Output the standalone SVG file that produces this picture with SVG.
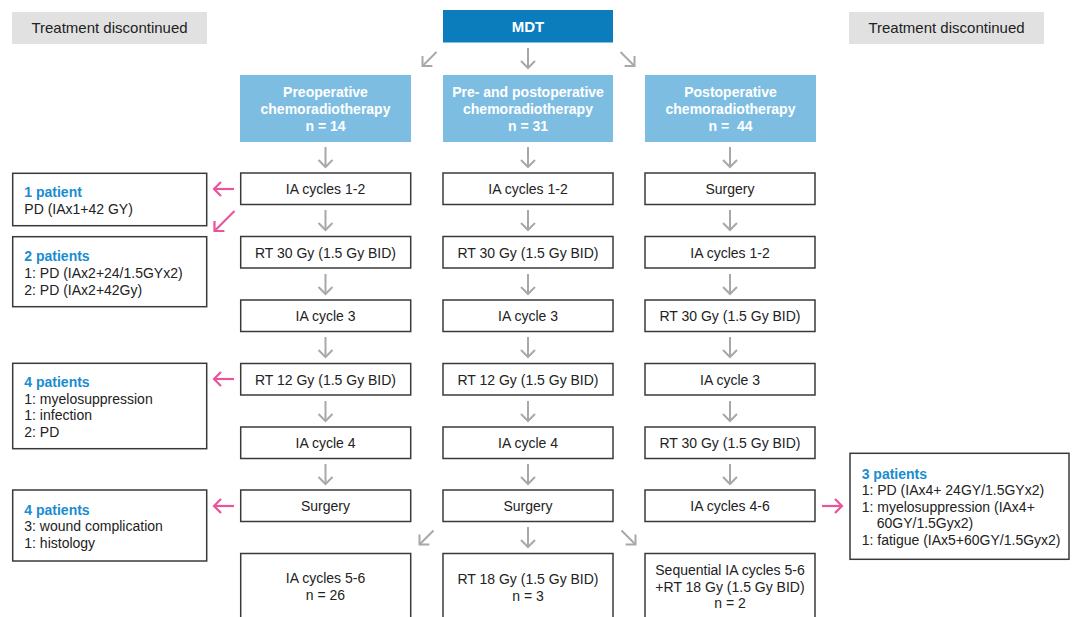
<svg xmlns="http://www.w3.org/2000/svg" width="1072" height="617" viewBox="0 0 1072 617">
<style>
text{font-family:"Liberation Sans",Arial,sans-serif;font-size:14px;fill:#222}
.c{text-anchor:middle}
.hd{font-weight:bold;fill:#fff;text-anchor:middle}
.blue{font-weight:bold;fill:#1a8ccf}
.box{fill:#fff;stroke:#3a3a3a;stroke-width:1.5}
.grey{fill:#e1e1e1}
.hdr{fill:#7dbde2}
.ga{fill:none;stroke:#a8a8a8;stroke-width:2;marker-end:url(#mg)}
.pa{fill:none;stroke:#e8559a;stroke-width:2.2;marker-end:url(#mp)}
</style>
<defs>
<marker id="mg" markerUnits="userSpaceOnUse" viewBox="-10 -10 20 20" markerWidth="20" markerHeight="20" refX="0" refY="0" orient="auto">
<path d="M-7,-7 L0,0 L-7,7" fill="none" stroke="#a8a8a8" stroke-width="2"/>
</marker>
<marker id="mp" markerUnits="userSpaceOnUse" viewBox="-10 -10 20 20" markerWidth="20" markerHeight="20" refX="0" refY="0" orient="auto">
<path d="M-7,-7 L0,0 L-7,7" fill="none" stroke="#e8559a" stroke-width="2.2"/>
</marker>
</defs>

<g id="td-left"><rect class="grey" x="12" y="12" width="195" height="32"/><text class="c" x="109.5" y="33" style="font-size:15px">Treatment discontinued</text></g>
<g id="td-right"><rect class="grey" x="849" y="12" width="195" height="32"/><text class="c" x="946.5" y="33" style="font-size:15px">Treatment discontinued</text></g>
<g id="mdt"><rect x="443" y="10" width="170" height="32.5" fill="#0b7dbd"/><text class="hd" x="528" y="32" style="font-size:15px">MDT</text></g>

<g id="h1"><rect class="hdr" x="240" y="75" width="171" height="67"/><text class="hd" x="325.5" y="97">Preoperative</text><text class="hd" x="325.5" y="114">chemoradiotherapy</text><text class="hd" x="325.5" y="131">n = 14</text></g>
<g id="h2"><rect class="hdr" x="443" y="75" width="170" height="67"/><text class="hd" x="528" y="97">Pre- and postoperative</text><text class="hd" x="528" y="114">chemoradiotherapy</text><text class="hd" x="528" y="131">n = 31</text></g>
<g id="h3"><rect class="hdr" x="645" y="75" width="171" height="67"/><text class="hd" x="730.5" y="97">Postoperative</text><text class="hd" x="730.5" y="114">chemoradiotherapy</text><text class="hd" x="730.5" y="131" xml:space="preserve">n =  44</text></g>

<g id="c1r1"><rect class="box" x="240.7" y="173" width="170" height="31.5"/><text class="c" x="325.5" y="194">IA cycles 1-2</text></g>
<g id="c1r2"><rect class="box" x="240.7" y="236.5" width="170" height="31.5"/><text class="c" x="325.5" y="257.5">RT 30 Gy (1.5 Gy BID)</text></g>
<g id="c1r3"><rect class="box" x="240.7" y="300" width="170" height="31.5"/><text class="c" x="325.5" y="321">IA cycle 3</text></g>
<g id="c1r4"><rect class="box" x="240.7" y="363.5" width="170" height="31.5"/><text class="c" x="325.5" y="384.5">RT 12 Gy (1.5 Gy BID)</text></g>
<g id="c1r5"><rect class="box" x="240.7" y="427" width="170" height="31.5"/><text class="c" x="325.5" y="448">IA cycle 4</text></g>
<g id="c1r6"><rect class="box" x="240.7" y="490" width="170" height="31.5"/><text class="c" x="325.5" y="511">Surgery</text></g>
<g id="c1r7"><rect class="box" x="240.7" y="553.5" width="170" height="80"/><text class="c" x="325.5" y="583">IA cycles 5-6</text><text class="c" x="325.5" y="600">n = 26</text></g>

<g id="c2r1"><rect class="box" x="443" y="173" width="170" height="31.5"/><text class="c" x="528" y="194">IA cycles 1-2</text></g>
<g id="c2r2"><rect class="box" x="443" y="236.5" width="170" height="31.5"/><text class="c" x="528" y="257.5">RT 30 Gy (1.5 Gy BID)</text></g>
<g id="c2r3"><rect class="box" x="443" y="300" width="170" height="31.5"/><text class="c" x="528" y="321">IA cycle 3</text></g>
<g id="c2r4"><rect class="box" x="443" y="363.5" width="170" height="31.5"/><text class="c" x="528" y="384.5">RT 12 Gy (1.5 Gy BID)</text></g>
<g id="c2r5"><rect class="box" x="443" y="427" width="170" height="31.5"/><text class="c" x="528" y="448">IA cycle 4</text></g>
<g id="c2r6"><rect class="box" x="443" y="490" width="170" height="31.5"/><text class="c" x="528" y="511">Surgery</text></g>
<g id="c2r7"><rect class="box" x="443" y="553.5" width="170" height="80"/><text class="c" x="528" y="584">RT 18 Gy (1.5 Gy BID)</text><text class="c" x="528" y="601">n = 3</text></g>

<g id="c3r1"><rect class="box" x="645" y="173" width="170" height="31.5"/><text class="c" x="730" y="194">Surgery</text></g>
<g id="c3r2"><rect class="box" x="645" y="236.5" width="170" height="31.5"/><text class="c" x="730" y="257.5">IA cycles 1-2</text></g>
<g id="c3r3"><rect class="box" x="645" y="300" width="170" height="31.5"/><text class="c" x="730" y="321">RT 30 Gy (1.5 Gy BID)</text></g>
<g id="c3r4"><rect class="box" x="645" y="363.5" width="170" height="31.5"/><text class="c" x="730" y="384.5">IA cycle 3</text></g>
<g id="c3r5"><rect class="box" x="645" y="427" width="170" height="31.5"/><text class="c" x="730" y="448">RT 30 Gy (1.5 Gy BID)</text></g>
<g id="c3r6"><rect class="box" x="645" y="490" width="170" height="31.5"/><text class="c" x="730" y="511">IA cycles 4-6</text></g>
<g id="c3r7"><rect class="box" x="645" y="553.5" width="170" height="80"/><text class="c" x="730" y="575">Sequential IA cycles 5-6</text><text class="c" x="730" y="591.5">+RT 18 Gy (1.5 Gy BID)</text><text class="c" x="730" y="608">n = 2</text></g>

<g id="d1"><rect class="box" x="12.7" y="173.3" width="194" height="52.4"/><text class="blue" x="24.3" y="197">1 patient</text><text x="24.3" y="213.5">PD (IAx1+42 GY)</text></g>
<g id="d2"><rect class="box" x="12.7" y="236.7" width="194" height="70"/><text class="blue" x="24.3" y="261">2 patients</text><text x="24.3" y="278">1: PD (IAx2+24/1.5GYx2)</text><text x="24.3" y="294.5">2: PD (IAx2+42Gy)</text></g>
<g id="d3"><rect class="box" x="12.7" y="363.3" width="194" height="85.4"/><text class="blue" x="24.3" y="387">4 patients</text><text x="24.3" y="403.5">1: myelosuppression</text><text x="24.3" y="420">1: infection</text><text x="24.3" y="436.5">2: PD</text></g>
<g id="d4"><rect class="box" x="12.7" y="490" width="194" height="71"/><text class="blue" x="24.3" y="514.5">4 patients</text><text x="24.3" y="531">3: wound complication</text><text x="24.3" y="548">1: histology</text></g>
<g id="d5"><rect class="box" x="850" y="453.3" width="219" height="106"/><text class="blue" x="861.7" y="478.5">3 patients</text><text x="861.7" y="495">1: PD (IAx4+ 24GY/1.5GYx2)</text><text x="861.7" y="511.5">1: myelosuppression (IAx4+</text><text x="876.7" y="528">60GY/1.5Gyx2)</text><text x="861.7" y="544.5">1: fatigue (IAx5+60GY/1.5Gyx2)</text></g>

<g id="connectors">
<path class="ga" d="M436.5,52 L422.5,66"/>
<path class="ga" d="M528,48 L528,68"/>
<path class="ga" d="M620.5,52 L634.5,66"/>
<path class="ga" d="M325.5,147 V167"/>
<path class="ga" d="M325.5,210 V230"/>
<path class="ga" d="M325.5,274 V294"/>
<path class="ga" d="M325.5,337 V357"/>
<path class="ga" d="M325.5,401 V421"/>
<path class="ga" d="M325.5,464 V484"/>
<path class="ga" d="M528,147 V167"/>
<path class="ga" d="M528,210 V230"/>
<path class="ga" d="M528,274 V294"/>
<path class="ga" d="M528,337 V357"/>
<path class="ga" d="M528,401 V421"/>
<path class="ga" d="M528,464 V484"/>
<path class="ga" d="M730,147 V167"/>
<path class="ga" d="M730,210 V230"/>
<path class="ga" d="M730,274 V294"/>
<path class="ga" d="M730,337 V357"/>
<path class="ga" d="M730,401 V421"/>
<path class="ga" d="M730,464 V484"/>
<path class="ga" d="M433.5,530.5 L419.5,544.5"/>
<path class="ga" d="M528,527 V547"/>
<path class="ga" d="M621.5,530.5 L635.5,544.5"/>
<path class="pa" d="M234,189 H214"/>
<path class="pa" d="M234.5,211 L214.5,231"/>
<path class="pa" d="M234,379 H214"/>
<path class="pa" d="M234,506 H214"/>
<path class="pa" d="M822,506 H842"/>
</g>
</svg>
